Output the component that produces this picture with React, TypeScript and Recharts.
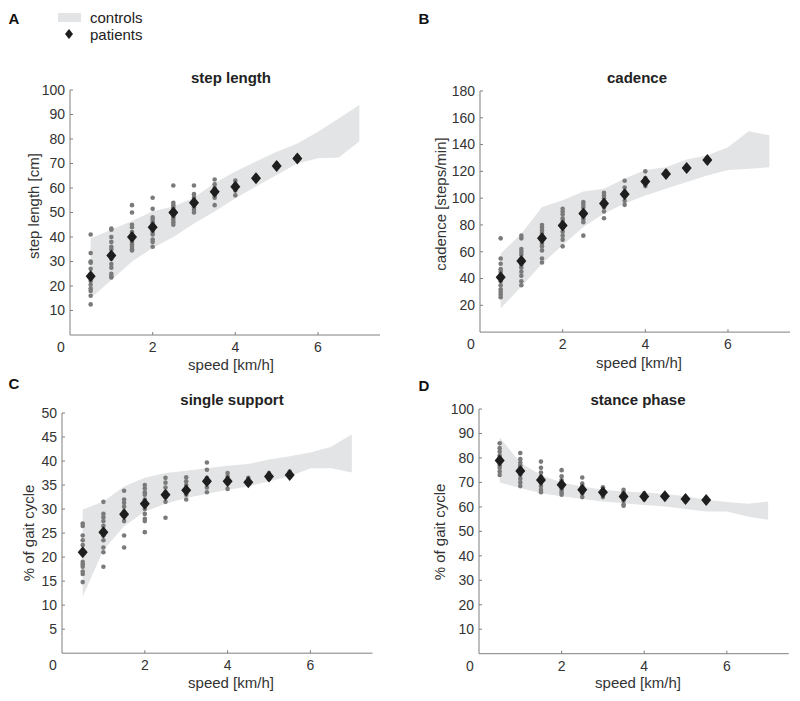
import React from "react";
import { ComposedChart, Area, Scatter, XAxis, YAxis } from "recharts";

// walking speeds where patients were measured, and where the control band is defined
const speeds = [0.5, 1, 1.5, 2, 2.5, 3, 3.5, 4, 4.5, 5, 5.5];
const bandSpeeds = [0.5, 1, 1.5, 2, 2.5, 3, 3.5, 4, 4.5, 5, 5.5, 6, 6.5, 7];
const xTicks = [0, 2, 4, 6];

// A - step length [cm]
const stepLenLow = [15, 22.5, 30, 35.5, 40, 45.5, 50.4, 55.8, 60.6, 65.3, 70, 72.1, 72.4, 79];
const stepLenHigh = [39.5, 43, 46.5, 50.5, 52.4, 56, 62, 66.7, 70.8, 74.8, 78.2, 83, 88.4, 93.9];
const stepLenMean = [24, 32.5, 40, 44, 50, 54, 58.5, 60.5, 64, 69, 72];
const stepLenPts = [
  [41, 33.5, 30, 29.5, 27, 22, 20.5, 19, 18, 16, 12.5],
  [43.5, 43, 40, 38, 36, 35, 33, 31, 29, 27.5, 25, 24, 23.5],
  [53, 50, 45, 44, 42, 41, 39, 38, 37, 36, 35, 34.5],
  [56, 51.5, 48, 47, 46, 45, 44, 42, 41, 39, 38, 36],
  [61, 54, 53, 52, 51, 49, 48, 47, 46, 45],
  [61, 57.5, 56, 55, 53, 52, 51, 50],
  [63.5, 61.5, 60, 59, 57, 56, 53],
  [63, 61.5, 60, 59, 57],
  [65, 64, 63.5],
  [70, 68.5],
  [73, 71.5],
];

// B - cadence [steps/min]
const cadenceLow = [17.6, 34, 51, 65, 78.5, 88.5, 96, 102, 107, 112, 117, 121, 122, 123];
const cadenceHigh = [58.6, 73.5, 93.4, 98.4, 105, 107, 114.6, 121, 123, 128.8, 132, 138, 150, 147];
const cadenceMean = [41, 53, 70, 79.5, 88.5, 96, 103, 112.5, 118, 122.5, 128.5];
const cadencePts = [
  [70, 55, 51, 47, 45, 42, 38, 35, 32, 30, 28, 26],
  [72, 70, 62, 60, 58, 55, 52, 50, 48, 45, 42, 38, 35],
  [80, 78, 76, 74, 72, 70, 68, 66, 64, 61, 55, 52],
  [92, 90, 88, 85, 83, 80, 78, 75, 72, 69, 64],
  [97, 95, 93, 90, 88, 86, 84, 82, 72],
  [104, 102, 100, 98, 95, 93, 90, 85],
  [113, 108, 105, 102, 98, 95],
  [120, 115, 112, 109],
  [120, 117],
  [123, 121],
  [130, 127],
];

// C - single support [% of gait cycle]
const singleLow = [11.8, 21.5, 26.4, 29.5, 31.1, 32.3, 33.2, 34, 34.7, 35.8, 36.8, 38.5, 38.5, 37.6];
const singleHigh = [29.9, 31.6, 34.7, 36.5, 37.5, 38, 38.5, 39, 39.4, 40.3, 41, 41.8, 43, 45.5];
const singleMean = [21, 25.2, 28.9, 31.1, 33, 33.9, 35.8, 35.8, 35.6, 36.8, 37.1];
const singlePts = [
  [27, 26.5, 24.5, 23.5, 22.5, 21, 19, 18.5, 18, 17, 16.5, 14.8],
  [31.5, 29, 28.3, 27.5, 26.5, 25.5, 24.5, 23.5, 22, 21, 18],
  [33.8, 32, 31.3, 30.5, 29.5, 28.5, 27.5, 24.5, 22],
  [35, 34.3, 33.5, 33, 32, 31, 30, 29, 28, 27.5, 25.2],
  [36.5, 35.5, 34.5, 33.5, 32.5, 31.5, 28.2],
  [36.6, 35.8, 35, 34, 33, 32],
  [39.7, 38.2, 36.5, 35.5, 34.5, 33.5],
  [37.5, 36.8, 35.5, 34.2],
  [36.5, 35.2],
  [37.5, 36.2],
  [37.8, 36.8],
];

// D - stance phase [% of gait cycle]
const stanceLow = [70, 67.7, 65.6, 64.3, 63.2, 62.2, 61.5, 60.8, 60.2, 59.1, 58.1, 58.1, 56.1, 54.7];
const stanceHigh = [88.5, 78, 73, 70, 68.3, 67, 66.3, 65.9, 65.3, 64.3, 62.9, 62, 61.3, 62.2];
const stanceMean = [79, 74.7, 71, 69, 67, 66, 64.2, 64.2, 64.3, 63.2, 62.8];
const stancePts = [
  [86, 84, 82.5, 81, 80, 78.5, 77, 76, 74.5, 73],
  [82, 79.5, 78, 77, 76, 74.5, 73, 71.5, 70, 68.5],
  [78.5, 76, 74, 72.5, 71, 70, 68.5, 67, 66],
  [75, 72.5, 71, 70, 69, 68, 67, 66, 65],
  [72, 69.5, 68.5, 67.5, 66.5, 65.5, 64],
  [68, 67, 66, 65, 64],
  [67, 66, 65, 64, 62.5, 61, 60.5],
  [65.5, 64.5, 63.5, 63],
  [65, 64],
  [64, 62.5],
  [63.5, 62],
];

const FONT = '"Liberation Sans", Arial, Helvetica, sans-serif';
const BAND = "#e3e4e5";
const AXIS = "#808080";

const bandRows = (lo: number[], hi: number[]) =>
  bandSpeeds.map((x, i) => ({ x, lo: lo[i], hi: hi[i] }));
const meanRows = (m: number[]) => speeds.map((x, i) => ({ x, y: m[i] }));
const ptRows = (pts: number[][]) =>
  pts.flatMap((col, i) => col.map((y) => ({ x: speeds[i], y })));

const Diamond = ({ cx, cy, hw = 5, hh = 6, fill = "#1e1e1e" }: any) => (
  <polygon
    points={`${cx},${cy - hh} ${cx + hw},${cy} ${cx},${cy + hh} ${cx - hw},${cy}`}
    fill={fill}
  />
);

const Dot = ({ cx, cy }: any) => <circle cx={cx} cy={cy} r={2.3} fill="#7a7a7a" />;

const XTick = ({ x, y, payload }: any) => (
  <g>
    {payload.value !== 0 && <line x1={x} y1={y} x2={x} y2={y - 3} stroke={AXIS} />}
    <text
      x={payload.value === 0 ? x - 9 : x}
      y={y + 12}
      dy="0.35em"
      textAnchor="middle"
      fontSize={14}
      fill="#333"
      fontFamily={FONT}
    >
      {payload.value}
    </text>
  </g>
);

const YTick = ({ x, y, payload }: any) => (
  <g>
    <line x1={x} y1={y} x2={x + 3} y2={y} stroke={AXIS} />
    <text x={x - 5} y={y} dy="0.35em" textAnchor="end" fontSize={14} fill="#333" fontFamily={FONT}>
      {payload.value}
    </text>
  </g>
);

type PanelProps = {
  letter: string;
  letterX: number;
  letterY: number;
  title: string;
  yLabel: string;
  left: number;
  top: number;
  right: number;
  bottom: number;
  yMax: number;
  yTicks: number[];
  titleX: number;
  titleY: number;
  yLabelX: number;
  yLabelY: number;
  xLabelX: number;
  xLabelY: number;
  band: { x: number; lo: number; hi: number }[];
  pts: { x: number; y: number }[];
  means: { x: number; y: number }[];
};

const centered = (x: number, y: number): React.CSSProperties => ({
  position: "absolute",
  left: x,
  top: y,
  transform: "translate(-50%, -50%)",
  whiteSpace: "nowrap",
  lineHeight: 1,
  fontFamily: FONT,
});

const Panel = (p: PanelProps) => {
  const w = p.right - p.left;
  const h = p.bottom - p.top;
  return (
    <>
      <div style={{ ...centered(p.letterX, p.letterY), fontWeight: 700, fontSize: 15, color: "#111" }}>
        {p.letter}
      </div>
      <div style={{ ...centered(p.titleX, p.titleY), fontWeight: 700, fontSize: 15, color: "#222" }}>
        {p.title}
      </div>
      <div
        style={{
          ...centered(p.yLabelX, p.yLabelY),
          transform: "translate(-50%, -50%) rotate(-90deg)",
          fontSize: 15,
          color: "#333",
        }}
      >
        {p.yLabel}
      </div>
      <div style={{ ...centered(p.xLabelX, p.xLabelY), fontSize: 15, color: "#333" }}>speed [km/h]</div>
      <div style={{ position: "absolute", left: p.left - 60, top: p.top - 10 }}>
        <ComposedChart
          width={w + 70}
          height={h + 40}
          data={p.band}
          margin={{ top: 10, right: 10, bottom: 0, left: 0 }}
        >
          <XAxis
            type="number"
            dataKey="x"
            domain={[0, 7.5]}
            ticks={xTicks}
            interval={0}
            allowDataOverflow
            height={30}
            tickSize={0}
            tickMargin={0}
            tickLine={false}
            axisLine={{ stroke: AXIS }}
            tick={<XTick />}
          />
          <YAxis
            type="number"
            domain={[0, p.yMax]}
            ticks={p.yTicks}
            interval={0}
            allowDataOverflow
            width={60}
            tickSize={0}
            tickMargin={0}
            tickLine={false}
            axisLine={{ stroke: AXIS }}
            tick={<YTick />}
          />
          <Area
            type="linear"
            dataKey={(d: any) => [d.lo, d.hi]}
            stroke="none"
            fill={BAND}
            fillOpacity={1}
            isAnimationActive={false}
          />
          <Scatter data={p.pts} dataKey="y" shape={<Dot />} isAnimationActive={false} />
          <Scatter data={p.means} dataKey="y" shape={<Diamond />} isAnimationActive={false} />
        </ComposedChart>
      </div>
    </>
  );
};

const range = (step: number, max: number) => {
  const out: number[] = [];
  for (let v = step; v <= max; v += step) out.push(v);
  return out;
};

export default function App() {
  return (
    <div
      style={{
        position: "absolute",
        left: 0,
        top: 0,
        width: 800,
        height: 701,
        background: "#fff",
        overflow: "hidden",
        fontFamily: FONT,
      }}
    >
      {/* legend */}
      <div style={{ position: "absolute", left: 58, top: 13, width: 23, height: 9, background: BAND }} />
      <div style={{ ...centered(90, 17), transform: "translate(0, -50%)", fontSize: 15, color: "#222" }}>
        controls
      </div>
      <svg style={{ position: "absolute", left: 60, top: 26 }} width={20} height={16}>
        <Diamond cx={9} cy={8} hw={4} hh={5} />
      </svg>
      <div style={{ ...centered(90, 34), transform: "translate(0, -50%)", fontSize: 15, color: "#222" }}>
        patients
      </div>

      <Panel
        letter="A" letterX={14} letterY={18}
        title="step length" yLabel="step length [cm]"
        left={70} top={90} right={380} bottom={335}
        yMax={100} yTicks={range(10, 100)}
        titleX={231} titleY={77} yLabelX={33} yLabelY={206} xLabelX={231} xLabelY={364}
        band={bandRows(stepLenLow, stepLenHigh)}
        pts={ptRows(stepLenPts)} means={meanRows(stepLenMean)}
      />
      <Panel
        letter="B" letterX={424} letterY={18}
        title="cadence" yLabel="cadence [steps/min]"
        left={480} top={90.7} right={790} bottom={331.8}
        yMax={180} yTicks={range(20, 180)}
        titleX={637} titleY={77} yLabelX={440} yLabelY={204} xLabelX={639} xLabelY={362}
        band={bandRows(cadenceLow, cadenceHigh)}
        pts={ptRows(cadencePts)} means={meanRows(cadenceMean)}
      />
      <Panel
        letter="C" letterX={14} letterY={383}
        title="single support" yLabel="% of gait cycle"
        left={61.5} top={413.3} right={372} bottom={653.5}
        yMax={50} yTicks={range(5, 50)}
        titleX={232} titleY={399} yLabelX={28} yLabelY={533} xLabelX={231} xLabelY={682}
        band={bandRows(singleLow, singleHigh)}
        pts={ptRows(singlePts)} means={meanRows(singleMean)}
      />
      <Panel
        letter="D" letterX={424} letterY={385}
        title="stance phase" yLabel="% of gait cycle"
        left={478.7} top={409.3} right={788.5} bottom={654}
        yMax={100} yTicks={range(10, 100)}
        titleX={638} titleY={399} yLabelX={439} yLabelY={532} xLabelX={638} xLabelY={682}
        band={bandRows(stanceLow, stanceHigh)}
        pts={ptRows(stancePts)} means={meanRows(stanceMean)}
      />
    </div>
  );
}
